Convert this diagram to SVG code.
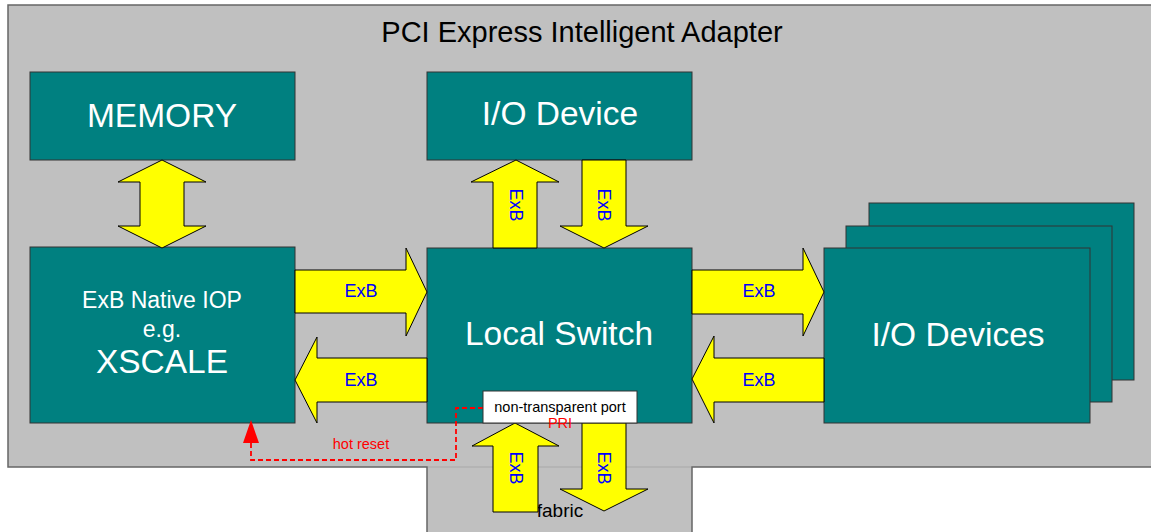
<svg xmlns="http://www.w3.org/2000/svg" width="1151" height="532" viewBox="0 0 1151 532">
  <style>
    .panel { fill: #C0C0C0; stroke: #666666; stroke-width: 1.5; }
    .box { fill: #008080; stroke: #333333; stroke-width: 1; }
    .arrow { fill: #FFFF00; stroke: #000000; stroke-width: 1; stroke-linejoin: miter; }
    .big { font-family: "Liberation Sans", Arial, sans-serif; font-size: 33.5px; fill: #FFFFFF; text-anchor: middle; }
    .mid { font-family: "Liberation Sans", Arial, sans-serif; font-size: 23px; fill: #FFFFFF; text-anchor: middle; }
    .exb { font-family: "Liberation Sans", Arial, sans-serif; font-size: 18px; fill: #0000FF; text-anchor: middle; }
    .small { font-family: "Liberation Sans", Arial, sans-serif; font-size: 14.5px; text-anchor: middle; }
    .title { font-family: "Liberation Sans", Arial, sans-serif; font-size: 29px; fill: #000000; text-anchor: middle; }
    .reset { fill: none; stroke: #FF0000; stroke-width: 1.8; stroke-dasharray: 5 3; }
  </style>

  <rect width="1151" height="532" fill="#FFFFFF"/>

  <!-- adapter enclosure with the fabric tab below -->
  <g id="adapter">
    <path class="panel" d="M8,5 H1170 V467 H692 V545 H427 V467 H8 Z"/>
    <line x1="428" y1="467" x2="691" y2="467" stroke="#A8A8A8" stroke-width="1"/>
    <text class="title" x="582" y="42">PCI Express Intelligent Adapter</text>
    <text x="560" y="517" font-family="'Liberation Sans', Arial, sans-serif" font-size="19" text-anchor="middle" fill="#000000">fabric</text>
  </g>

  <g id="memory">
    <rect class="box" x="30" y="72" width="265" height="88"/>
    <text class="big" x="162" y="127">MEMORY</text>
  </g>

  <g id="io-device">
    <rect class="box" x="427" y="72" width="265" height="88"/>
    <text class="big" x="560" y="125">I/O Device</text>
  </g>

  <g id="iop">
    <rect class="box" x="30" y="247" width="265" height="176"/>
    <text class="mid" x="162" y="308">ExB Native IOP</text>
    <text class="mid" x="162" y="337">e.g.</text>
    <text class="big" x="162" y="373">XSCALE</text>
  </g>

  <g id="io-devices">
    <rect class="box" x="869" y="203" width="265" height="177"/>
    <rect class="box" x="846" y="226" width="266" height="176"/>
    <rect class="box" x="824" y="248" width="266" height="175"/>
    <text class="big" x="958" y="346">I/O Devices</text>
  </g>

  <g id="local-switch">
    <rect class="box" x="427" y="248" width="265" height="175"/>
    <text class="big" x="559" y="345">Local Switch</text>
  </g>

  <g id="connectors">
    <!-- memory <-> IOP -->
    <path class="arrow" d="M162,160 L206,182 H184 V226 H206 L162,248 L118,226 H140 V182 H118 Z"/>

    <!-- IOP -> switch -->
    <path class="arrow" d="M295,270 H406 V248 L427,292 L406,336 V313 H295 Z"/>
    <text class="exb" x="361" y="297">ExB</text>
    <!-- switch -> IOP -->
    <path class="arrow" d="M427,358 H317 V337 L295,380 L317,423 V402 H427 Z"/>
    <text class="exb" x="361" y="386">ExB</text>

    <!-- switch -> I/O devices -->
    <path class="arrow" d="M692,270 H803 V248 L824,292 L803,336 V314 H692 Z"/>
    <text class="exb" x="759" y="297">ExB</text>
    <!-- I/O devices -> switch -->
    <path class="arrow" d="M824,358 H714 V336 L692,379 L714,423 V402 H824 Z"/>
    <text class="exb" x="759" y="386">ExB</text>

    <!-- switch -> I/O device (up) -->
    <path class="arrow" d="M493,248 V182 H471 L516,160 L559,182 H537 V248 Z"/>
    <text class="exb" transform="translate(516,205) rotate(90)" dominant-baseline="central">ExB</text>
    <!-- I/O device -> switch (down) -->
    <path class="arrow" d="M582,160 H626 V226 H648 L604,248 L560,226 H582 Z"/>
    <text class="exb" transform="translate(604,205) rotate(90)" dominant-baseline="central">ExB</text>

    <!-- fabric -> switch (up) -->
    <path class="arrow" d="M493,512 V446 H472 L515,423 L559,446 H538 V512 Z"/>
    <text class="exb" transform="translate(516,468) rotate(90)" dominant-baseline="central">ExB</text>
    <!-- switch -> fabric (down) -->
    <path class="arrow" d="M582,423 H626 V489 H648 L604,511 L560,489 H582 Z"/>
    <text class="exb" transform="translate(604,468) rotate(90)" dominant-baseline="central">ExB</text>

    <!-- hot reset path from the non-transparent port back to the IOP -->
    <path class="reset" d="M483,408 H456 V460 H251 V443"/>
    <path d="M251,420 L259,443 H243 Z" fill="#FF0000"/>
    <text class="small" x="361" y="449" fill="#FF0000">hot reset</text>
  </g>

  <g id="nt-port">
    <rect x="483" y="391" width="154" height="32" fill="#FFFFFF" stroke="#333333" stroke-width="1"/>
    <text class="small" x="560" y="412" fill="#000000">non-transparent port</text>
    <text class="small" x="560" y="428" fill="#FF0000">PRI</text>
  </g>
</svg>
